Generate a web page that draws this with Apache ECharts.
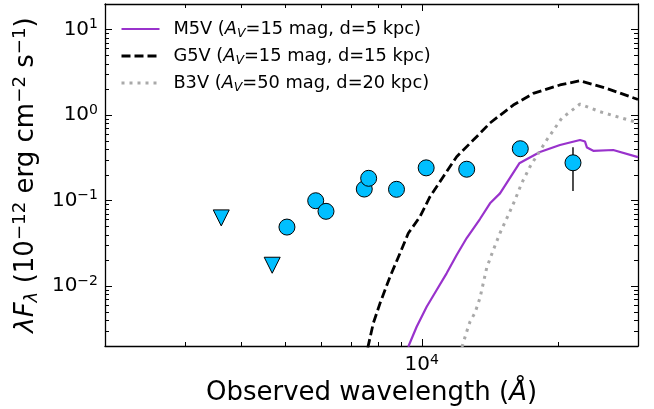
<!DOCTYPE html>
<html>
<head>
<meta charset="utf-8">
<script src="https://cdn.jsdelivr.net/npm/echarts@6/dist/echarts.min.js"></script>
<style>
  html, body { margin: 0; padding: 0; background: #fff; }
  #chart { width: 654px; height: 409px; }
</style>
</head>
<body>
<div id="chart"></div>
<script>
// axis ranges (raw units)
const xRange = [2000, 30000];
const yRange = [0.002, 20];
const xMajorTicks = [10000];
const yMajorTicks = [0.01, 0.1, 1, 10];
const minorMult = [2, 3, 4, 5, 6, 7, 8, 9];

// model SEDs
const m5vWave = [9337, 9744, 10252, 10786, 11346, 11940, 12564, 13440, 14144, 14882, 16414, 18234, 20180, 22345, 22920, 23150, 23900, 26450, 30000];
const m5vFlux = [0.00196, 0.00336, 0.00575, 0.00903, 0.01416, 0.0232, 0.0366, 0.0611, 0.0933, 0.122, 0.274, 0.371, 0.448, 0.513, 0.4925, 0.419, 0.384, 0.392, 0.324];
const g5vWave = [7600, 7816, 8088, 8509, 8952, 9337, 9909, 10425, 11153, 11940, 12992, 13440, 14144, 14882, 15920, 17620, 20180, 22345, 25590, 30000];
const g5vFlux = [0.0019, 0.00368, 0.00631, 0.0129, 0.0243, 0.0416, 0.065, 0.1114, 0.191, 0.327, 0.513, 0.614, 0.811, 1.0, 1.316, 1.80, 2.26, 2.53, 2.06, 1.53];
const b3vWave = [12266, 12564, 12778, 13106, 13440, 13906, 14381, 14882, 15523, 16057, 16612, 17327, 18865, 20355, 22345, 24733, 30000];
const b3vFlux = [0.00195, 0.00294, 0.00385, 0.0049, 0.00728, 0.01633, 0.0265, 0.0419, 0.068, 0.102, 0.160, 0.250, 0.513, 0.920, 1.352, 1.099, 0.817];

// photometry
const detWave = [5041, 5834, 6147, 7467, 7635, 8795, 10226, 12564, 16496, 21561];
const detFlux = [0.0492, 0.100, 0.0752, 0.137, 0.183, 0.136, 0.2425, 0.2336, 0.406, 0.278];
const limWave = [3610, 4677];
const limFlux = [0.063, 0.0176];
const errWave = [21561, 21561];
const errFlux = [0.130, 0.421];

const legendLabels = {
  M5V: 'M5V ({it|A}{sub|V}=15 mag, d=5 kpc)',
  G5V: 'G5V ({it|A}{sub|V}=15 mag, d=15 kpc)',
  B3V: 'B3V ({it|A}{sub|V}=50 mag, d=20 kpc)'
};

const FONT = 'DejaVu Sans';
const lg = Math.log10;
const pairs = (xs, ys) => xs.map((x, i) => [lg(x), lg(ys[i])]);

function minorTicks(range) {
  const out = [];
  for (let e = Math.floor(lg(range[0])); e <= Math.ceil(lg(range[1])); e++) {
    minorMult.forEach(m => {
      const v = m * Math.pow(10, e);
      if (v >= range[0] && v <= range[1]) out.push(lg(v));
    });
  }
  return out;
}

const powLabel = v => {
  const e = Math.round(v);
  return '{b|10}{s|' + (e < 0 ? '\u2212' + (-e) : e) + '}';
};
const tickRich = {
  b: { fontFamily: FONT, fontSize: 20, lineHeight: 24, color: '#000' },
  s: { fontFamily: FONT, fontSize: 14, lineHeight: 14, verticalAlign: 'top', color: '#000' }
};

const lineCol = '#000';
function makeAxis(range, position, major, withLabel, extra) {
  const base = {
    type: 'value',
    min: lg(range[0]),
    max: lg(range[1]),
    position: position,
    splitLine: { show: false },
    axisLine: { show: major, onZero: false, lineStyle: { color: lineCol, width: 1.3 } },
    axisTick: {
      show: true,
      inside: true,
      length: major ? 7 : 4,
      customValues: major ? null : minorTicks(range),
      lineStyle: { color: lineCol, width: 1 }
    },
    axisLabel: { show: false }
  };
  if (major) {
    const vals = (position === 'bottom' || position === 'top' ? xMajorTicks : yMajorTicks).map(lg);
    base.axisTick.customValues = vals;
    if (withLabel) {
      base.axisLabel = {
        show: true,
        customValues: vals,
        formatter: powLabel,
        margin: 7,
        rich: tickRich
      };
    }
  }
  return Object.assign(base, extra || {});
}

// hide the round marker ECharts puts in the middle of line legend icons
const noMarker = { color: 'rgba(0,0,0,0)', borderColor: 'rgba(0,0,0,0)', borderWidth: 0, opacity: 0 };

const chart = echarts.init(document.getElementById('chart'), null, { renderer: 'canvas' });

chart.setOption({
  animation: false,
  backgroundColor: '#fff',
  grid: { left: 105, right: 16, top: 4, bottom: 63, outerBoundsMode: 'none' },
  legend: {
    orient: 'vertical',
    left: 120,
    top: 18,
    padding: 0,
    itemWidth: 38,
    itemHeight: 22,
    itemGap: 5,
    selectedMode: false,
    data: [
      { name: 'M5V', lineStyle: { width: 2.2 }, itemStyle: noMarker },
      { name: 'G5V', lineStyle: { width: 2.8 }, itemStyle: noMarker },
      { name: 'B3V', lineStyle: { width: 3 }, itemStyle: noMarker }
    ],
    formatter: n => '\u2002' + legendLabels[n],
    textStyle: {
      fontFamily: FONT, fontSize: 17.8, lineHeight: 22, color: '#000',
      rich: {
        it: { fontFamily: FONT, fontSize: 17.8, lineHeight: 22, fontStyle: 'italic', color: '#000' },
        sub: { fontFamily: FONT, fontSize: 12.5, lineHeight: 14, fontStyle: 'italic', verticalAlign: 'bottom', color: '#000' }
      }
    }
  },
  xAxis: [
    makeAxis(xRange, 'bottom', true, true, {
      name: 'Observed wavelength ({it|\u00c5})',
      nameLocation: 'middle',
      nameGap: 26,
      nameTextStyle: {
        fontFamily: FONT, fontSize: 26, lineHeight: 26, color: '#000',
        rich: { it: { fontFamily: FONT, fontSize: 26, lineHeight: 26, fontStyle: 'italic', color: '#000' } }
      }
    }),
    makeAxis(xRange, 'bottom', false, false),
    makeAxis(xRange, 'top', true, false),
    makeAxis(xRange, 'top', false, false)
  ],
  yAxis: [
    makeAxis(yRange, 'left', true, true, {
      name: '{it|\u03bbF}{isub|\u03bb}{n| (10}{sup|\u221212}{n| erg cm}{sup|\u22122}{n| s}{sup|\u22121}{n|)}',
      nameLocation: 'middle',
      nameGap: 53,
      nameTextStyle: {
        fontFamily: FONT, fontSize: 26, lineHeight: 30, color: '#000',
        rich: {
          n: { fontFamily: FONT, fontSize: 26, lineHeight: 30, color: '#000' },
          it: { fontFamily: FONT, fontSize: 26, lineHeight: 30, fontStyle: 'italic', color: '#000' },
          isub: { fontFamily: FONT, fontSize: 18.2, lineHeight: 18, fontStyle: 'italic', verticalAlign: 'bottom', color: '#000' },
          sup: { fontFamily: FONT, fontSize: 18.2, lineHeight: 18, verticalAlign: 'top', color: '#000' }
        }
      }
    }),
    makeAxis(yRange, 'left', false, false),
    makeAxis(yRange, 'right', true, false),
    makeAxis(yRange, 'right', false, false)
  ],
  series: [
    {
      name: 'M5V', type: 'line', symbol: 'none', showSymbol: false,
      data: pairs(m5vWave, m5vFlux),
      lineStyle: { color: '#9932CC', width: 2.2 },
      itemStyle: { color: '#9932CC' },
      z: 2
    },
    {
      name: 'G5V', type: 'line', symbol: 'none', showSymbol: false,
      data: pairs(g5vWave, g5vFlux),
      lineStyle: { color: '#000', width: 2.8, type: [9, 4], cap: 'butt' },
      itemStyle: { color: '#000' },
      z: 2
    },
    {
      name: 'B3V', type: 'line', symbol: 'none', showSymbol: false,
      data: pairs(b3vWave, b3vFlux),
      lineStyle: { color: '#A9A9A9', width: 3, type: [3, 5], cap: 'butt' },
      itemStyle: { color: '#A9A9A9' },
      z: 2
    },
    {
      name: 'err', type: 'line', symbol: 'none', showSymbol: false,
      data: pairs(errWave, errFlux),
      lineStyle: { color: '#222', width: 1.6 },
      z: 3
    },
    {
      name: 'det', type: 'scatter', symbol: 'circle', symbolSize: 16,
      data: pairs(detWave, detFlux),
      itemStyle: { color: '#00BFFF', borderColor: '#000', borderWidth: 1, opacity: 1 },
      z: 4
    },
    {
      name: 'lim', type: 'scatter', symbol: 'path://M0,0 L2,0 L1,2 Z', symbolSize: 16,
      data: pairs(limWave, limFlux),
      itemStyle: { color: '#00BFFF', borderColor: '#000', borderWidth: 1, opacity: 1 },
      z: 4
    }
  ]
});
</script>
</body>
</html>
